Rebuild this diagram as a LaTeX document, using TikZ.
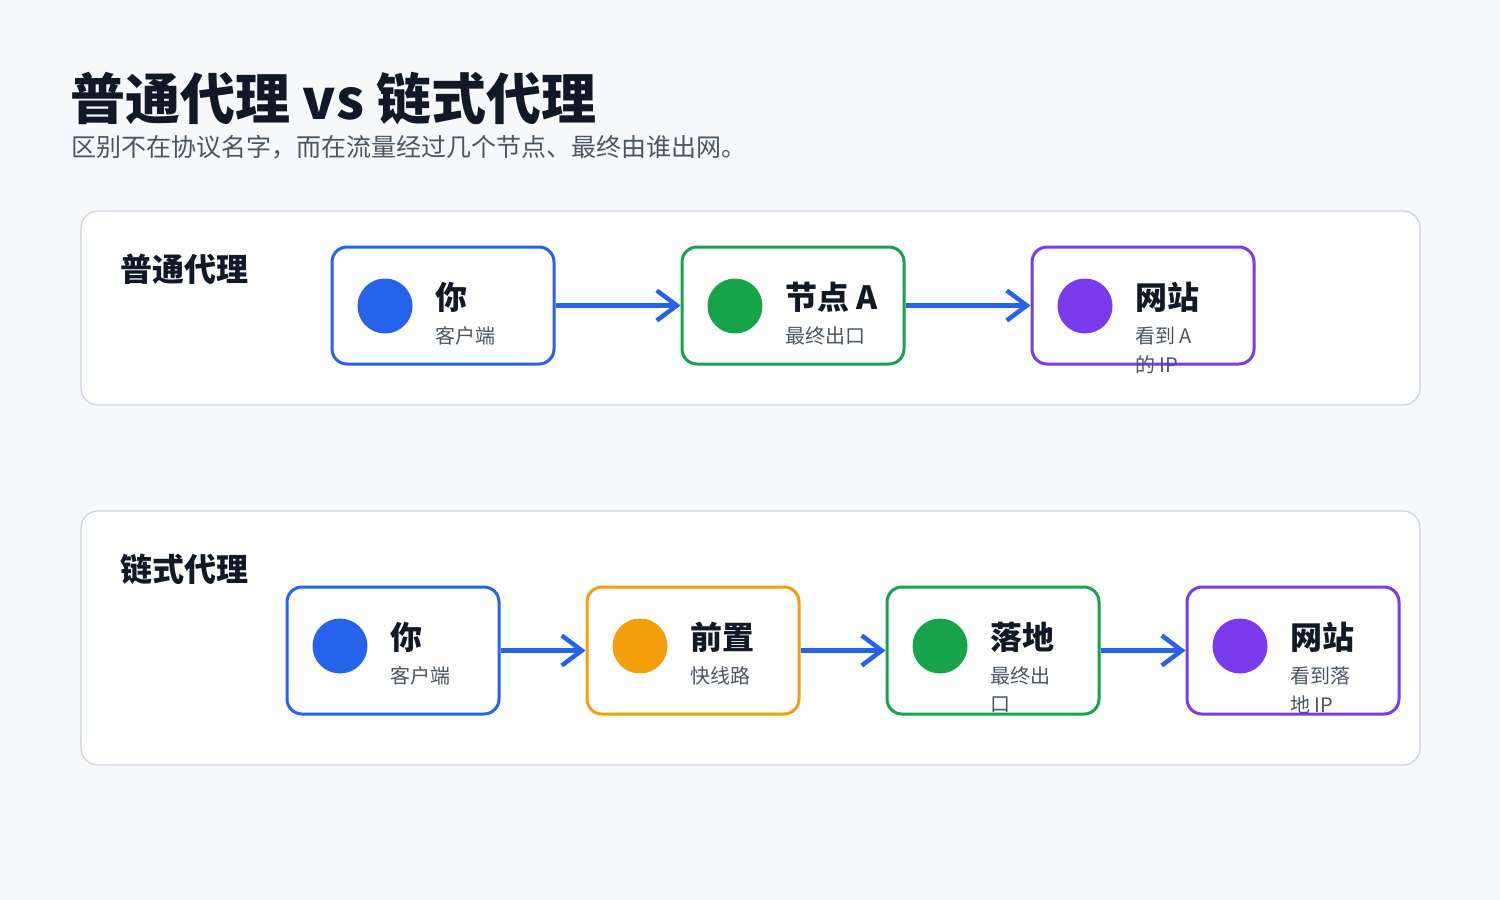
\documentclass[tikz,border=0pt]{standalone}
\usepackage{fontspec}
\setmainfont{Noto Sans CJK SC}
\usepackage{xcolor}
\usetikzlibrary{arrows.meta,positioning}

\definecolor{pagebg}{HTML}{F7F8FB}
\definecolor{ink}{HTML}{111827}
\definecolor{muted}{HTML}{4B5563}
\definecolor{rim}{HTML}{CBD5E1}
\definecolor{cblue}{HTML}{2563EB}
\definecolor{cgreen}{HTML}{16A34A}
\definecolor{cpurple}{HTML}{7C3AED}
\definecolor{corange}{HTML}{F59E0B}

\tikzset{
  panel/.style={draw=rim,line width=1.3pt,fill=white,rounded corners=17pt},
  card/.style={draw=#1,line width=3pt,fill=white,rounded corners=15pt,minimum width=222pt,minimum height=117pt},
  wide/.style={minimum width=212pt,minimum height=127pt},
  dot/.style={circle,fill=#1,minimum size=55pt,inner sep=0pt},
  ttl/.style={anchor=west,inner sep=0pt,text=ink,font=\fontsize{32}{32}\selectfont\bfseries},
  sub/.style={anchor=west,inner sep=0pt,text=muted,font=\fontsize{20}{20}\selectfont},
  flow/.style={draw=cblue,line width=4.5pt,-{Straight Barb[length=20pt,width=30pt]}}
}

\begin{document}
\begin{tikzpicture}[x=1pt,y=-1pt]
  \fill[pagebg] (0,0) rectangle (1500,900);
  \useasboundingbox (0,0) rectangle (1500,900);

  \node[anchor=west,inner sep=0pt,text=ink,font=\fontsize{55}{55}\selectfont\bfseries] (title) at (70,99) {普通代理 vs 链式代理};
  \node[anchor=west,inner sep=0pt,text=muted,font=\fontsize{25}{25}\selectfont] (lead) at (71,147) {区别不在协议名字，而在流量经过几个节点、最终由谁出网。};

  % plain proxy
  \draw[panel] (81,211) rectangle (1420,405);
  \node[ttl] (plain) at (120,269) {普通代理};

  \node[card=cblue] (you1) at (443,305.5) {};
  \node[dot=cblue] (you1dot) at (385,306) {};
  \node[ttl] (you1t) at (435,297) {你};
  \node[sub] (you1s) at (435,336) {客户端};

  \node[card=cgreen] (nodeA) at (793,305.5) {};
  \node[dot=cgreen] (nodeAdot) at (735,306) {};
  \node[ttl] (nodeAt) at (785,297) {节点 A};
  \node[sub] (nodeAs) at (785,336) {最终出口};

  \node[card=cpurple] (site1) at (1143,305.5) {};
  \node[dot=cpurple] (site1dot) at (1085,306) {};
  \node[ttl] (site1t) at (1135,297) {网站};
  \node[sub] (site1s) at (1135,336) {看到 A};
  \node[sub] (site1s2) at (1135,365) {的 IP};

  \draw[flow] (you1) -- (nodeA);
  \draw[flow] (nodeA) -- (site1);

  % chained proxy
  \draw[panel] (81,511) rectangle (1420,765);
  \node[ttl] (chain) at (120,569) {链式代理};

  \node[card=cblue,wide] (you2) at (393,650.5) {};
  \node[dot=cblue] (you2dot) at (340,646) {};
  \node[ttl] (you2t) at (390,637) {你};
  \node[sub] (you2s) at (390,676) {客户端};

  \node[card=corange,wide] (front) at (693,650.5) {};
  \node[dot=corange] (frontdot) at (640,646) {};
  \node[ttl] (frontt) at (690,637) {前置};
  \node[sub] (fronts) at (690,676) {快线路};

  \node[card=cgreen,wide] (land) at (993,650.5) {};
  \node[dot=cgreen] (landdot) at (940,646) {};
  \node[ttl] (landt) at (990,637) {落地};
  \node[sub] (lands) at (990,676) {最终出};
  \node[sub] (lands2) at (990,705) {口};

  \node[card=cpurple,wide] (site2) at (1293,650.5) {};
  \node[dot=cpurple] (site2dot) at (1240,646) {};
  \node[ttl] (site2t) at (1290,637) {网站};
  \node[sub] (site2s) at (1290,676) {看到落};
  \node[sub] (site2s2) at (1290,705) {地 IP};

  \draw[flow] (you2) -- (front);
  \draw[flow] (front) -- (land);
  \draw[flow] (land) -- (site2);
\end{tikzpicture}
\end{document}
